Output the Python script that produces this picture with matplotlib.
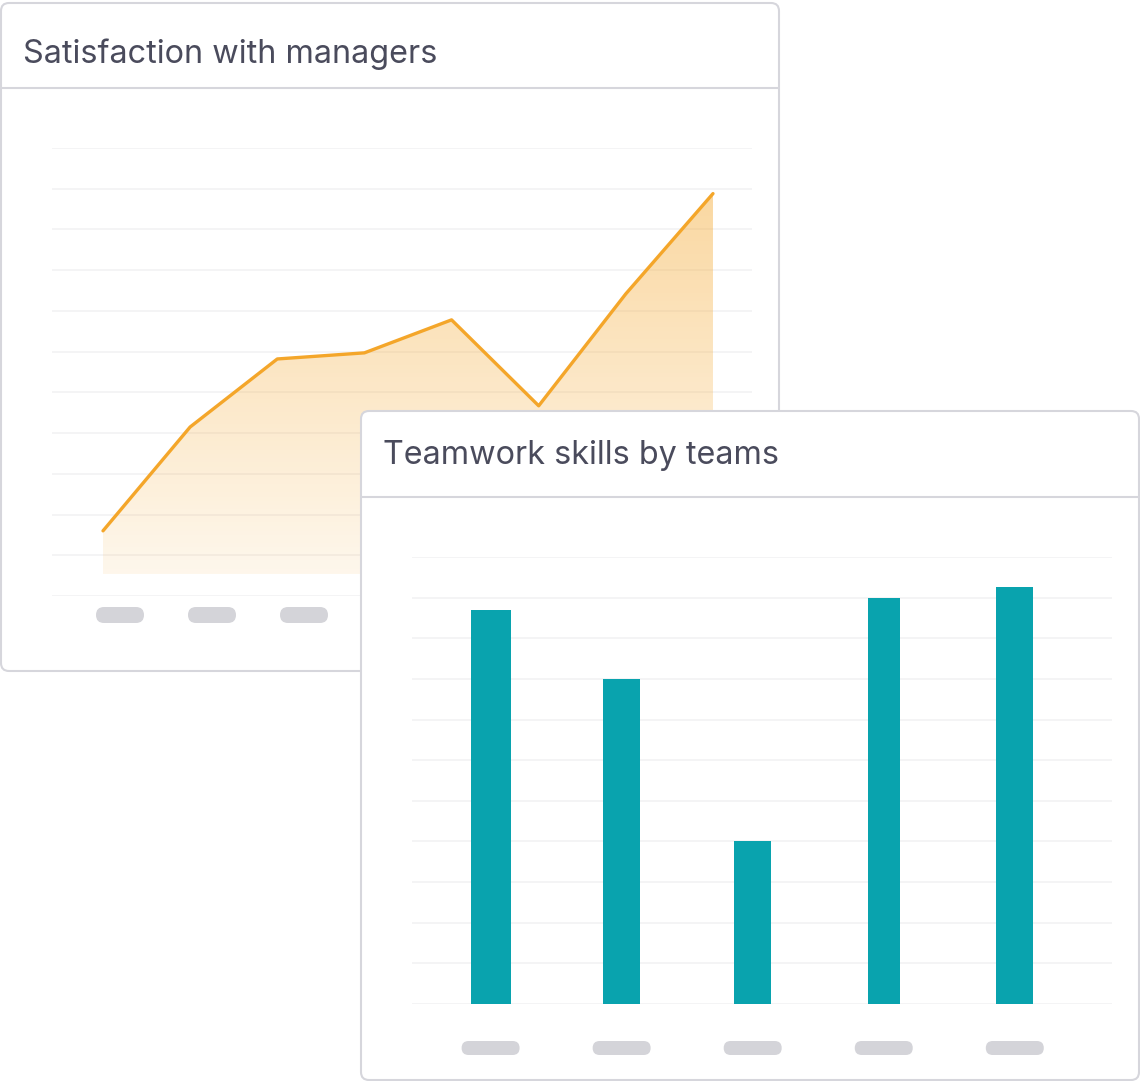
import numpy as np
import matplotlib
matplotlib.use("Agg")
import matplotlib.pyplot as plt
from matplotlib.patches import FancyBboxPatch
from matplotlib.colors import LinearSegmentedColormap

W, H = 1140, 1081

# chart data (values read in gridline units)
line_title = "Satisfaction with managers"
line_values = [1.6, 4.15, 5.82, 5.97, 6.78, 4.67, 7.42, 9.88]
line_base = 0.54

bar_title = "Teamwork skills by teams"
bar_values = [9.7, 7.99, 4.0, 9.98, 10.27]
bar_widths_px = [40, 37, 37, 32, 37]

n_grid = 12
line_pills = 7

ORANGE = "#f4a62a"
TEAL = "#09a3ae"
BORDER = "#d6d6dc"
GRID = "#f2f2f4"
PILL = "#d4d4d9"
TITLE = "#4a4b5c"

plt.rcParams["font.family"] = ["Inter", "DejaVu Sans"]


def fig_rect(x0, y0, x1, y1):
    return [x0 / W, 1 - y1 / H, (x1 - x0) / W, (y1 - y0) / H]


def pixel_axes(fig, z):
    ax = fig.add_axes([0, 0, 1, 1], zorder=z)
    ax.set_xlim(0, W)
    ax.set_ylim(H, 0)
    ax.axis("off")
    return ax


def draw_card(ax, x0, y0, x1, y1, header_y, title, title_base):
    card = FancyBboxPatch((x0, y0), x1 - x0, y1 - y0,
                          boxstyle="round,pad=0,rounding_size=8",
                          facecolor="white", edgecolor=BORDER, linewidth=1.5)
    ax.add_patch(card)
    ax.plot([x0, x1], [header_y, header_y], color=BORDER, lw=1.5,
            solid_capstyle="butt")
    ax.text(x0 + 22, title_base, title, fontsize=23.3, color=TITLE,
            va="baseline", ha="left")


def pill(ax, cx, cy, w, h):
    ax.add_patch(FancyBboxPatch((cx - w / 2, cy - h / 2), w, h,
                                boxstyle=f"round,pad=0,rounding_size={h / 2}",
                                facecolor=PILL, edgecolor="none"))


fig = plt.figure(figsize=(W / 100, H / 100), dpi=100)

# ---- card 1: line/area chart
ax_c1 = pixel_axes(fig, 0)
draw_card(ax_c1, 1, 3, 779, 671, 88, line_title, 63)
for k in range(line_pills):
    pill(ax_c1, 120 + 92 * k, 615, 48, 16)

ax_l = fig.add_axes(fig_rect(52, 148, 752, 596), zorder=1)
ax_l.axis("off")
x = np.arange(len(line_values))
step = 87.14
ax_l.set_xlim((52 - 103) / step, (752 - 103) / step)
ax_l.set_ylim(0, n_grid - 1)
for g in range(n_grid):
    ax_l.axhline(g, color=GRID, lw=1.2, zorder=0)

poly = ax_l.fill_between(x, line_values, line_base, color="none", lw=0)
top = max(line_values)
grad = np.linspace(0, 1, 256).reshape(-1, 1)
cmap = LinearSegmentedColormap.from_list(
    "fade", [(0.957, 0.651, 0.165, 0.09), (0.957, 0.651, 0.165, 0.44)])
img = ax_l.imshow(grad, cmap=cmap, aspect="auto", origin="lower",
                  extent=[x[0], x[-1], line_base, top], zorder=1)
img.set_clip_path(poly.get_paths()[0], transform=ax_l.transData)
ax_l.plot(x, line_values, color=ORANGE, lw=2.4, zorder=3,
          solid_joinstyle="round", solid_capstyle="round")

# ---- card 2: bar chart
ax_c2 = pixel_axes(fig, 2)
draw_card(ax_c2, 361, 411, 1139, 1080, 497, bar_title, 464)

ax_b = fig.add_axes(fig_rect(412, 557, 1112, 1004), zorder=3)
ax_b.axis("off")
bstep = 131.05
first = 490.6
xlo, xhi = (412 - first) / bstep, (1112 - first) / bstep
ax_b.set_xlim(xlo, xhi)
ax_b.set_ylim(0, n_grid - 1)
for g in range(n_grid):
    ax_b.axhline(g, color=GRID, lw=1.2, zorder=0)
bx = np.arange(len(bar_values))
ax_b.bar(bx, bar_values, width=[w / bstep for w in bar_widths_px],
         color=TEAL, zorder=2)

for i in bx:
    cx = 412 + (i - xlo) / (xhi - xlo) * 700
    pill(ax_c2, cx, 1048, 58, 14)

fig.savefig("out.png", dpi=100)
